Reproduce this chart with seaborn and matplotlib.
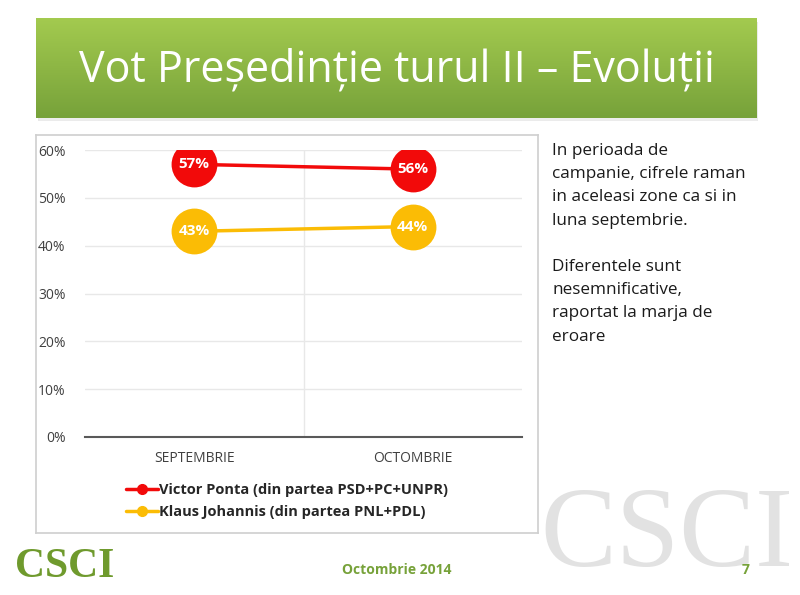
import numpy as np
import pandas as pd
import matplotlib
matplotlib.use('Agg')
import matplotlib.pyplot as plt
import seaborn as sns
from matplotlib.patches import Rectangle
from matplotlib.lines import Line2D

# data
months = ['SEPTEMBRIE', 'OCTOMBRIE']
ponta = [57, 56]
johannis = [43, 44]
series_names = ['Victor Ponta (din partea PSD+PC+UNPR)', 'Klaus Johannis (din partea PNL+PDL)']
series_colors = ['#f20a0a', '#fbbc05']
y_ticks = [0, 10, 20, 30, 40, 50, 60]

side_text = ('In perioada de\ncampanie, cifrele raman\nin aceleasi zone ca si in\nluna septembrie.\n\n'
             'Diferentele sunt\nnesemnificative,\nraportat la marja de\neroare')

df = pd.DataFrame({
    'luna': months * 2,
    'valoare': ponta + johannis,
    'candidat': [series_names[0]] * 2 + [series_names[1]] * 2,
})

sns.set_theme(style='white')
plt.rcParams['font.family'] = ['Open Sans', 'DejaVu Sans']

W, H = 800, 595
fig = plt.figure(figsize=(W / 100, H / 100), dpi=100)
fig.patch.set_facecolor('white')

def fx(px):
    return px / W

def fy(py):
    return 1 - py / H

# title banner with gradient and a soft shadow
shadow = fig.add_axes([fx(38), fy(121), fx(720), fy(22) - fy(121)])
shadow.axis('off')
shadow.add_patch(Rectangle((0, 0), 1, 1, color='#dcdcdc', alpha=0.5))
ban = fig.add_axes([fx(36), fy(118), fx(721), fy(18) - fy(118)])
grad = np.linspace(0, 1, 100).reshape(-1, 1)
cmap = matplotlib.colors.LinearSegmentedColormap.from_list('g', ['#a3ca4f', '#77a23a'])
ban.imshow(grad, aspect='auto', cmap=cmap, extent=[0, 1, 0, 1])
ban.axis('off')
ban.text(0.5, 0.48, 'Vot Președinție turul II – Evoluții', color='white', fontsize=31,
         ha='center', va='center', family=['Open Sans', 'DejaVu Sans'])

# chart frame
frame = fig.add_axes([fx(36), fy(533), fx(502), fy(135) - fy(533)])
frame.set_xticks([])
frame.set_yticks([])
for s in frame.spines.values():
    s.set_color('#d0d0d0')

ax = fig.add_axes([fx(85), fy(437), fx(437), fy(150) - fy(437)])
ax.set_facecolor('none')
sns.lineplot(data=df, x='luna', y='valoare', hue='candidat', palette=series_colors,
             marker='o', markersize=33, markeredgewidth=0, linewidth=2.5, ax=ax, legend=False)
ax.set_xlim(-0.5, 1.5)
ax.set_ylim(0, 60)
ax.set_yticks(y_ticks)
ax.set_yticklabels([f'{v}%' for v in y_ticks], fontsize=10, color='#404040')
ax.set_xticks(range(len(months)))
ax.set_xticklabels(months, fontsize=10, color='#404040')
ax.tick_params(axis='y', pad=14, length=0)
ax.tick_params(axis='x', pad=10, length=0)
ax.set_xlabel('')
ax.set_ylabel('')
ax.grid(axis='y', color='#e8e8e8', linewidth=1)
ax.axvline(0.5, color='#e8e8e8', linewidth=1, zorder=0)
for s in ['top', 'right', 'left']:
    ax.spines[s].set_visible(False)
ax.spines['bottom'].set_color('#595959')
ax.spines['bottom'].set_linewidth(1.5)

for vals in [ponta, johannis]:
    for i, v in enumerate(vals):
        ax.text(i, v, f'{v}%', color='white', fontsize=11, fontweight='bold',
                ha='center', va='center', zorder=5)

# legend
handles = [Line2D([], [], color=c, marker='o', markersize=7, linewidth=2.5) for c in series_colors]
fig.legend(handles, series_names, loc='center', bbox_to_anchor=(fx(287), fy(501)),
           frameon=False, prop={'weight': 'bold', 'size': 10.5}, handlelength=2.2,
           handletextpad=0.1, labelspacing=0.6, labelcolor='#262626')

# side text
fig.text(fx(552), fy(143), side_text, fontsize=12.3, va='top', ha='left',
         color='#1a1a1a', linespacing=1.6, family=['Open Sans', 'DejaVu Sans'])

# footer
fig.text(fx(667), fy(538), 'CSCI', fontsize=82, color='#e2e2e2', ha='center', va='center',
         family='Liberation Serif', zorder=0)
fig.text(fx(65), fy(567), 'CSCI', fontsize=30, color='#6f9a2d', ha='center', va='center',
         family='Liberation Serif', fontweight='bold')
fig.text(fx(397), fy(570), 'Octombrie 2014', fontsize=10, color='#77a23a', fontweight='bold',
         ha='center', va='center')
fig.text(fx(746), fy(570), '7', fontsize=10, color='#77a23a', fontweight='bold',
         ha='center', va='center', zorder=3)

fig.savefig('out.png', dpi=100, facecolor='white')
